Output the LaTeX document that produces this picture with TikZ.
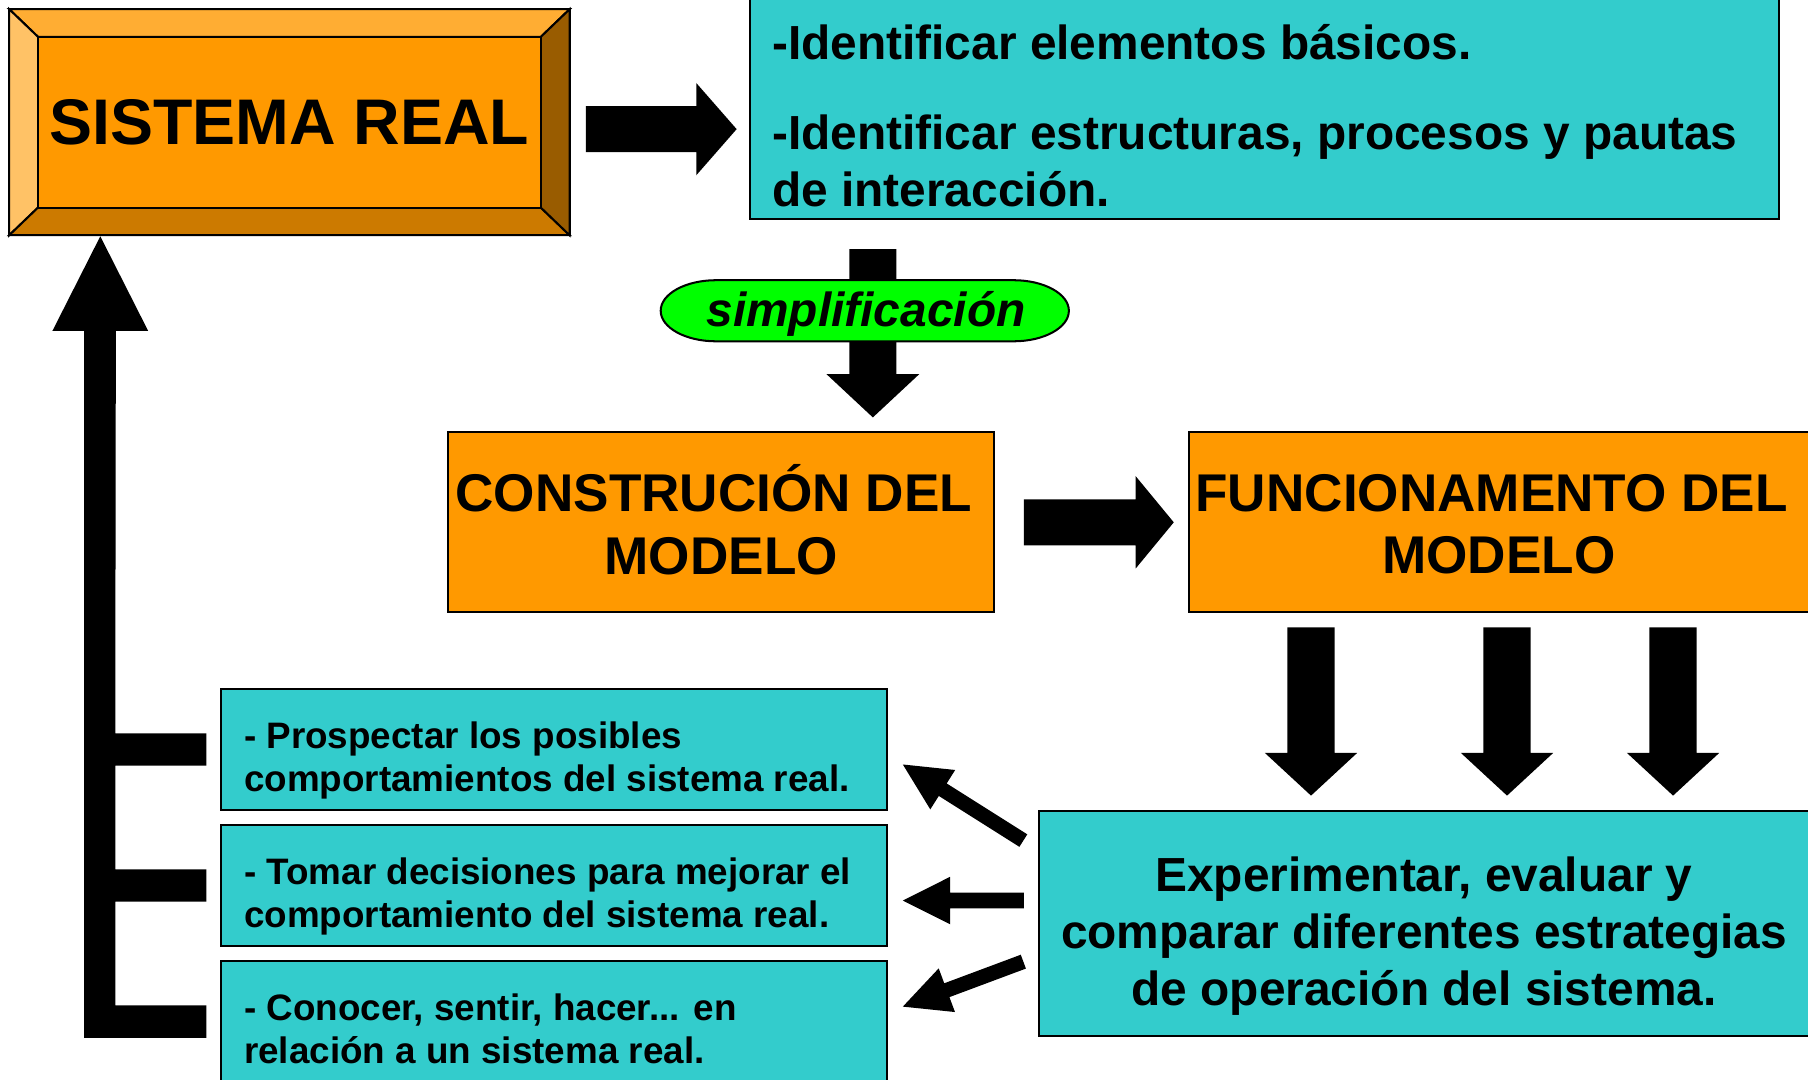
\documentclass[tikz,border=0pt]{standalone}
\usepackage{fontspec}
\setmainfont{Liberation Sans}
\usetikzlibrary{calc}
\definecolor{orng}{HTML}{FF9900}
\definecolor{cyn}{HTML}{33CCCC}
\definecolor{grn}{HTML}{00FF00}
\definecolor{bvtop}{HTML}{FFAD33}
\definecolor{bvleft}{HTML}{FFC266}
\definecolor{bvbot}{HTML}{CC7A00}
\definecolor{bvright}{HTML}{995C00}
\newcommand\blockarrow[5]{%
  \path ($(#2)!#5cm!(#1)$) coordinate (bab);
  \fill[arrowfill] (#2) -- ($(bab)!#4cm!90:(#2)$) -- ($(bab)!#3cm!90:(#2)$)
    -- ($(#1)!#3cm!90:(#2)$) -- ($(#1)!#3cm!-90:(#2)$) -- ($(bab)!#3cm!-90:(#2)$)
    -- ($(bab)!#4cm!-90:(#2)$) -- cycle;}
\newcommand\fsSR{\fontsize{15.9pt}{19pt}\selectfont\bfseries}
\newcommand\fsTT{\fontsize{13.1pt}{15.36pt}\selectfont\bfseries}
\newcommand\fsMD{\fontsize{11.8pt}{13.94pt}\selectfont\bfseries}
\newcommand\fsEX{\fontsize{11.8pt}{14.03pt}\selectfont\bfseries}
\newcommand\fsSM{\fontsize{9.08pt}{10.7pt}\selectfont\bfseries}
\begin{document}
\begin{tikzpicture}[x=0.01cm,y=-0.01cm,
  box/.style={draw=black, line width=0.5pt, inner sep=0pt},
  orangebox/.style={box, fill=orng},
  cyanbox/.style={box, fill=cyn},
  bevel/.style={draw=black, line width=0.5pt},
  txt/.style={inner sep=0pt},
  arrowfill/.style={fill=black}]
\clip (0,0) rectangle (1568,936);
\fill[white] (0,0) rectangle (1568,936);
% ---- SISTEMA REAL (bevelled box)
\filldraw[bevel, fill=bvtop] (8,8) -- (494,8) -- (469,32) -- (33,32) -- cycle;
\filldraw[bevel, fill=bvleft] (8,8) -- (33,32) -- (33,180) -- (8,204) -- cycle;
\filldraw[bevel, fill=bvbot] (8,204) -- (33,180) -- (469,180) -- (494,204) -- cycle;
\filldraw[bevel, fill=bvright] (494,8) -- (494,204) -- (469,180) -- (469,32) -- cycle;
\filldraw[bevel, fill=orng] (33,32) rectangle (469,180);
\node[box, minimum width=4.86cm, minimum height=1.96cm] (sr) at (251,106) {\fsSR SISTEMA REAL};
% ---- top cyan box
\node[cyanbox, minimum width=8.92cm, minimum height=1.93cm] (tb) at (1097,93.5) {};
\node[txt, anchor=base west] (tbt) at (669,52) {\fsMD\begin{tabular}[t]{@{}l@{}}-Identificar elementos básicos.\\[8.25pt]-Identificar estructuras, procesos y pautas\\de interacción.\end{tabular}};
% ---- model boxes
\node[orangebox, minimum width=4.73cm, minimum height=1.56cm] (cm) at (625.5,453) {};
\node[txt, anchor=base] (cmt) at (625.5,443.8) {\fsTT\begin{tabular}[t]{@{}c@{}}CONSTRUCIÓN DEL\kern.278em\\MODELO\end{tabular}};
\node[orangebox, minimum width=5.40cm, minimum height=1.56cm] (fm) at (1301,453) {};
\node[txt, anchor=base] (fmt) at (1300,443.4) {\fsTT\begin{tabular}[t]{@{}c@{}}FUNCIONAMENTO DEL\kern.278em\\MODELO\end{tabular}};
% ---- experiment box
\node[cyanbox, minimum width=6.70cm, minimum height=1.95cm] (ex) at (1236,800.5) {};
\node[txt, anchor=base] (ext) at (1235,773) {\fsEX\begin{tabular}[t]{@{}c@{}}Experimentar, evaluar y\\comparar diferentes estrategias\\de operación del sistema.\end{tabular}};
% ---- result boxes
\node[cyanbox, minimum width=5.77cm, minimum height=1.05cm] (pA) at (480.5,650) {};
\node[txt, anchor=base west] (pAt) at (211,649) {\fsSM\begin{tabular}[t]{@{}l@{}}- Prospectar los posibles\\comportamientos del sistema real.\end{tabular}};
\node[cyanbox, minimum width=5.77cm, minimum height=1.05cm] (pB) at (480.5,768) {};
\node[txt, anchor=base west] (pBt) at (211,767) {\fsSM\begin{tabular}[t]{@{}l@{}}- Tomar decisiones para mejorar el\\comportamiento del sistema real.\end{tabular}};
\node[cyanbox, minimum width=5.77cm, minimum height=1.05cm] (pC) at (480.5,886) {};
\node[txt, anchor=base west] (pCt) at (211,885) {\fsSM\begin{tabular}[t]{@{}l@{}}- Conocer, sentir, hacer... en\\relación a un sistema real.\end{tabular}};
% ---- arrow end points
\coordinate (a1t) at ($(sr.east)+(13,6)$);
\coordinate (a1h) at ($(tb.west)+(-11,18.5)$);
\coordinate (a2t) at (757,216);
\coordinate (a2h) at (757,362);
\coordinate (a3t) at ($(cm.east)+(25,0)$);
\coordinate (a3h) at ($(fm.west)+(-12,0)$);
\coordinate (a4t) at (1137,544);
\coordinate (a4h) at (1137,690);
\coordinate (a5t) at (1307,544);
\coordinate (a5h) at (1307,690);
\coordinate (a6t) at (1451,544);
\coordinate (a6h) at (1451,690);
\coordinate (a7t) at (887.5,729);
\coordinate (a7h) at (783,663);
\coordinate (a8t) at (888,781);
\coordinate (a8h) at (783,781);
\coordinate (a9t) at (887.5,834);
\coordinate (a9h) at (783,873);
\coordinate (fbtip) at ($(sr.south west)+(80,0)$);
% ---- block arrows
\blockarrow{a1t}{a1h}{0.20}{0.40}{0.35}
\blockarrow{a2t}{a2h}{0.204}{0.403}{0.376}
\blockarrow{a3t}{a3h}{0.20}{0.40}{0.33}
\blockarrow{a4t}{a4h}{0.205}{0.40}{0.37}
\blockarrow{a5t}{a5h}{0.205}{0.40}{0.37}
\blockarrow{a6t}{a6h}{0.205}{0.40}{0.37}
\blockarrow{a7t}{a7h}{0.064}{0.202}{0.409}
\blockarrow{a8t}{a8h}{0.068}{0.206}{0.41}
\blockarrow{a9t}{a9h}{0.064}{0.202}{0.407}
% ---- simplificacion label
\path[draw=black, line width=0.5pt, fill=grn] (621,243) -- (879,243)
  arc[start angle=-90, end angle=90, x radius=48, y radius=26.5] -- (621,296)
  arc[start angle=90, end angle=270, x radius=48, y radius=26.5] -- cycle;
\node[txt, anchor=base] (simp) at (751,283.3) {\fontsize{11.8pt}{14pt}\selectfont\bfseries\itshape simplificación};
% ---- feedback connector to SISTEMA REAL
\fill[arrowfill] (fbtip) -- ($(fbtip)+(41.5,82)$) -- ($(fbtip)+(13.5,82)$)
  -- ($(pA.west)+(-91,-14)$) -- ($(pA.west)+(-12,-14)$) -- ($(pA.west)+(-12,14)$) -- ($(pA.west)+(-91,14)$)
  -- ($(pB.west)+(-91,-14)$) -- ($(pB.west)+(-12,-14)$) -- ($(pB.west)+(-12,14)$) -- ($(pB.west)+(-91,14)$)
  -- ($(pC.west)+(-91,-14)$) -- ($(pC.west)+(-12,-14)$) -- ($(pC.west)+(-12,14)$) -- ($(pC.west)+(-118,14)$)
  -- ($(fbtip)+(-14,82)$) -- ($(fbtip)+(-41.5,82)$) -- cycle;
\end{tikzpicture}
\end{document}
